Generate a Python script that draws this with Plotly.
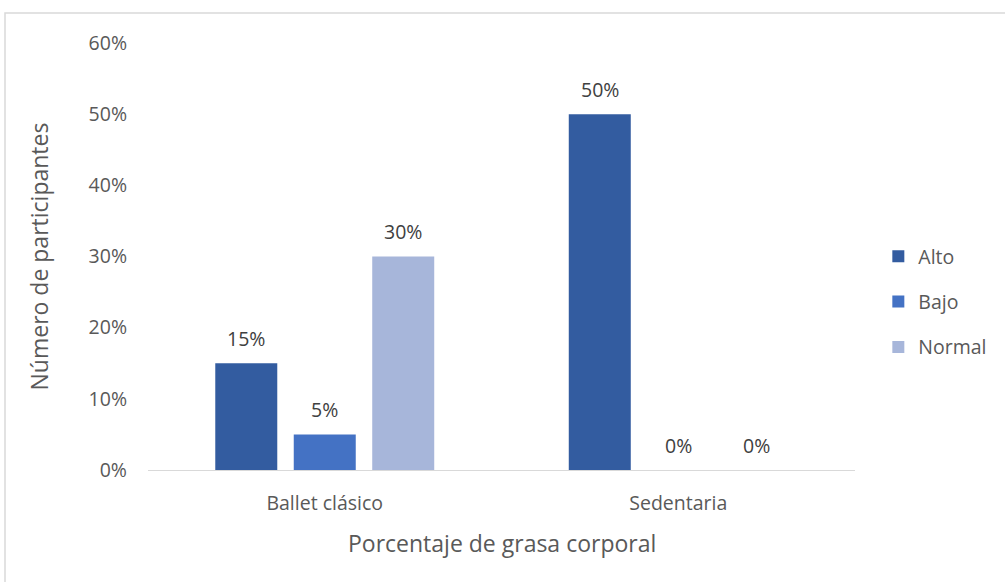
import plotly.graph_objects as go

categories = ["Ballet clásico", "Sedentaria"]
alto = [0.15, 0.50]
bajo = [0.05, 0.0]
normal = [0.30, 0.0]
series_names = ["Alto", "Bajo", "Normal"]
colors = ["#335ca0", "#4472c4", "#a7b6da"]
x_title = "Porcentaje de grasa corporal"
y_title = "Número de participantes"

FONT = "Open Sans"
TXT = 19.5
TTL = 23
L, R, T, B = 148, 150, 43, 112
W, H = 1005, 582
PW = W - L - R
PH = H - T - B
SLOT = 78.5  # px between grouped bar centres

fig = go.Figure()
annotations = []
for i, (name, vals, col) in enumerate(zip(series_names, [alto, bajo, normal], colors)):
    fig.add_trace(go.Bar(
        x=categories, y=vals, name=name, marker_color=col,
        marker_line_width=0, legendgroup=name,
    ))
    for c, v in zip(categories, vals):
        annotations.append(dict(
            x=c, y=v, xref="x", yref="y", text=f"{v:.0%}", showarrow=False,
            xshift=(i - 1) * SLOT, yshift=25, yanchor="middle",
            font=dict(size=TXT, color="#404040", family=FONT)))

annotations.append(dict(x=0.5, y=(H - 543 - B) / PH, xref="paper", yref="paper",
                        text=x_title, showarrow=False, yanchor="middle",
                        font=dict(size=TTL, color="#595959", family=FONT)))
annotations.append(dict(x=(38 - L) / PW, y=0.5, xref="paper", yref="paper",
                        text=y_title, showarrow=False, textangle=-90,
                        xanchor="center", yanchor="middle",
                        font=dict(size=TTL, color="#595959", family=FONT)))

fig.update_layout(
    width=W, height=H,
    margin=dict(l=L, r=R, t=T, b=B, autoexpand=False),
    paper_bgcolor="white", plot_bgcolor="white",
    font=dict(family=FONT, color="#595959", size=TXT),
    barmode="group", bargap=0.334, bargroupgap=0.21,
    showlegend=True,
    legend=dict(x=1.033, xanchor="left", y=(H - 302 - B) / PH, yanchor="middle",
                font=dict(size=TXT, color="#595959"), tracegroupgap=17,
                itemwidth=30),
    xaxis=dict(showline=True, linecolor="#d9d9d9", linewidth=1, ticks="",
               automargin=False, ticklabelstandoff=16,
               tickfont=dict(size=TXT, color="#595959")),
    yaxis=dict(range=[0, 0.6], dtick=0.1, tickformat=".0%", showgrid=False,
               zeroline=False, ticks="", ticklabelstandoff=20, automargin=False,
               tickfont=dict(size=TXT, color="#595959")),
    annotations=annotations,
    shapes=[dict(type="rect", xref="paper", yref="paper",
                 x0=(5 - L) / PW, x1=1.4, y0=-0.5, y1=(H - B - 13) / PH,
                 line=dict(color="#d9d9d9", width=1.5), layer="below")],
)
fig.write_html("out.html", config={"displayModeBar": False},
               post_script="document.body.style.margin='0';document.body.style.overflow='hidden';")
